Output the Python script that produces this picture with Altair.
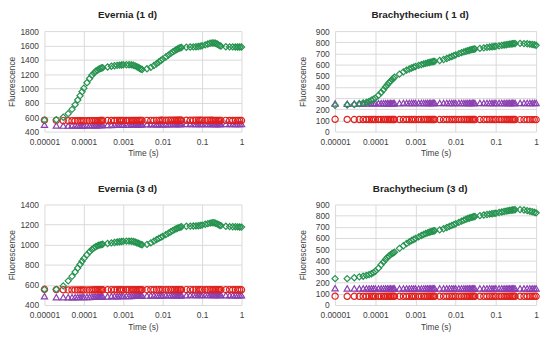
import altair as alt
import pandas as pd

# sampling times (s)
time_s = [
    1e-5, 2e-5, 3e-5, 4e-5, 5e-5, 6e-5, 7e-5, 8e-5, 9e-5, 1e-4,
    1.2e-4, 1.4e-4, 1.6e-4, 1.8e-4, 2.0e-4, 2.2e-4, 2.4e-4, 2.6e-4, 2.8e-4, 3.0e-4,
    4e-4, 5e-4, 6e-4, 7e-4, 8e-4, 9e-4, 1e-3,
    1.2e-3, 1.4e-3, 1.6e-3, 1.8e-3, 2.0e-3, 2.2e-3, 2.4e-3, 2.6e-3, 2.8e-3, 3.0e-3,
    4e-3, 5e-3, 6e-3, 7e-3, 8e-3, 9e-3, 1e-2,
    1.2e-2, 1.4e-2, 1.6e-2, 1.8e-2, 2.0e-2, 2.2e-2, 2.4e-2, 2.6e-2, 2.8e-2, 3.0e-2,
    4e-2, 5e-2, 6e-2, 7e-2, 8e-2, 9e-2, 1e-1,
    1.2e-1, 1.4e-1, 1.6e-1, 1.8e-1, 2.0e-1, 2.2e-1, 2.4e-1, 2.6e-1, 2.8e-1, 3.0e-1,
    4e-1, 5e-1, 6e-1, 7e-1, 8e-1, 9e-1, 1.0,
]

# ---- Evernia (1 d)
e1_green = [
    560, 565, 600, 650, 710, 775, 840, 900, 955, 1005,
    1080, 1140, 1185, 1215, 1240, 1255, 1268, 1278, 1285, 1290,
    1300, 1310, 1318, 1322, 1326, 1328, 1330,
    1332, 1332, 1330, 1325, 1315, 1305, 1293, 1282, 1272, 1265,
    1275, 1295, 1320, 1345, 1370, 1390, 1410,
    1440, 1465, 1490, 1510, 1525, 1540, 1550, 1560, 1568, 1572,
    1575, 1578, 1580, 1582, 1585, 1590, 1595,
    1608, 1620, 1630, 1635, 1635, 1630, 1620, 1608, 1598, 1590,
    1582, 1580, 1580, 1578, 1578, 1578, 1578,
]
e1_red = [
    560, 556, 553, 552, 552, 551, 551, 552, 552, 552,
    552, 552, 553, 553, 553, 553, 553, 554, 554, 554,
    554, 554, 554, 555, 555, 555, 555,
    555, 555, 555, 555, 556, 556, 556, 556, 556, 556,
    556, 556, 556, 556, 556, 557, 557,
    557, 557, 557, 557, 557, 557, 557, 557, 557, 557,
    557, 557, 557, 557, 557, 557, 557,
    557, 557, 557, 557, 556, 556, 556, 556, 556, 556,
    556, 555, 555, 555, 554, 554, 554,
]
e1_purple = [
    495, 486, 484, 484, 485, 485, 486, 486, 487, 487,
    488, 488, 489, 489, 490, 490, 491, 491, 491, 492,
    493, 494, 495, 496, 496, 497, 497,
    498, 498, 499, 499, 500, 500, 500, 501, 501, 501,
    502, 502, 503, 503, 503, 504, 504,
    504, 504, 505, 505, 505, 505, 506, 506, 506, 506,
    506, 506, 507, 507, 507, 507, 507,
    507, 507, 507, 507, 507, 507, 507, 507, 507, 507,
    506, 506, 506, 505, 505, 505, 505,
]

# ---- Brachythecium (1 d)
b1_green = [
    235, 238, 243, 250, 256, 262, 270, 280, 290, 300,
    325, 350, 375, 400, 420, 438, 452, 465, 476, 487,
    515, 535, 550, 560, 570, 577, 583,
    593, 600, 606, 611, 615, 619, 622, 625, 627, 629,
    636, 645, 655, 665, 673, 680, 687,
    698, 707, 714, 720, 725, 729, 733, 736, 738, 740,
    745, 750, 754, 757, 760, 762, 764,
    768, 772, 775, 778, 781, 783, 785, 787, 788, 789,
    790, 788, 786, 783, 780, 777, 773,
]
b1_red = [
    110, 109, 108, 108, 108, 108, 108, 108, 108, 108,
    108, 108, 108, 108, 108, 108, 108, 108, 108, 108,
    108, 108, 108, 108, 108, 108, 108,
    108, 108, 108, 108, 108, 108, 108, 108, 108, 108,
    108, 108, 108, 108, 108, 108, 108,
    108, 108, 108, 108, 108, 108, 108, 108, 108, 108,
    108, 108, 108, 108, 108, 108, 108,
    108, 108, 108, 108, 108, 108, 108, 108, 108, 108,
    107, 107, 107, 107, 107, 107, 107,
]
b1_purple = [
    252, 250, 251, 252, 252, 253, 253, 253, 254, 254,
    254, 254, 255, 255, 255, 255, 255, 255, 255, 255,
    255, 256, 256, 256, 256, 256, 256,
    256, 256, 256, 257, 257, 257, 257, 257, 257, 257,
    257, 257, 257, 257, 257, 257, 257,
    257, 257, 257, 257, 257, 257, 257, 257, 257, 257,
    257, 257, 257, 257, 257, 257, 257,
    257, 257, 257, 257, 257, 257, 257, 257, 257, 257,
    257, 257, 256, 256, 256, 256, 256,
]

# ---- Evernia (3 d)
e3_green = [
    555, 555, 590, 640, 685, 728, 768, 803, 835, 862,
    900, 930, 952, 968, 980, 988, 994, 998, 1001, 1004,
    1012, 1018, 1022, 1026, 1029, 1031, 1033,
    1035, 1035, 1034, 1031, 1026, 1020, 1014, 1008, 1003, 999,
    1003, 1018, 1035, 1050, 1063, 1073, 1083,
    1100, 1115, 1128, 1140, 1150, 1158, 1165, 1170, 1175, 1178,
    1183, 1185, 1186, 1187, 1189, 1192, 1195,
    1203, 1210, 1215, 1218, 1218, 1214, 1207, 1200, 1194, 1190,
    1183, 1180, 1179, 1178, 1177, 1176, 1175,
]
e3_red = [
    556, 553, 551, 550, 550, 550, 550, 550, 550, 550,
    550, 550, 550, 551, 551, 551, 551, 551, 551, 551,
    551, 551, 551, 552, 552, 552, 552,
    552, 552, 552, 552, 552, 552, 552, 552, 552, 552,
    552, 552, 552, 553, 553, 553, 553,
    553, 553, 553, 553, 553, 553, 553, 553, 553, 553,
    553, 553, 553, 553, 553, 553, 553,
    553, 553, 553, 553, 553, 553, 553, 553, 553, 553,
    552, 552, 552, 552, 551, 551, 551,
]
e3_purple = [
    488, 478, 477, 477, 478, 478, 479, 479, 480, 480,
    481, 481, 482, 482, 483, 483, 484, 484, 484, 485,
    486, 487, 488, 488, 489, 489, 490,
    490, 491, 491, 492, 492, 492, 493, 493, 493, 494,
    494, 495, 495, 495, 496, 496, 496,
    497, 497, 497, 497, 498, 498, 498, 498, 498, 498,
    498, 499, 499, 499, 499, 499, 499,
    499, 499, 499, 499, 499, 499, 499, 499, 499, 499,
    498, 498, 498, 498, 497, 497, 497,
]

# ---- Brachythecium (3 d)
b3_green = [
    236, 236, 244, 252, 258, 265, 272, 280, 290, 302,
    330, 360, 386, 408, 426, 440, 451, 460, 467, 473,
    507, 530, 550, 565, 577, 587, 595,
    610, 622, 632, 640, 646, 652, 656, 660, 663, 665,
    673, 683, 694, 704, 713, 720, 727,
    740, 751, 760, 768, 774, 779, 783, 787, 790, 792,
    800, 806, 810, 814, 817, 820, 822,
    828, 833, 837, 841, 844, 847, 849, 851, 852, 853,
    854, 850, 845, 840, 835, 830, 825,
]
b3_red = [
    79, 78, 78, 78, 78, 78, 78, 78, 78, 78,
    78, 78, 78, 78, 78, 78, 78, 78, 78, 78,
    78, 78, 78, 78, 78, 78, 78,
    78, 78, 78, 78, 78, 78, 78, 78, 78, 78,
    78, 78, 78, 78, 78, 78, 78,
    78, 78, 78, 78, 78, 78, 78, 78, 78, 78,
    78, 78, 78, 78, 78, 78, 78,
    78, 78, 78, 78, 78, 78, 78, 78, 78, 78,
    78, 78, 78, 78, 78, 78, 78,
]
b3_purple = [
    150, 148, 148, 148, 148, 148, 148, 148, 148, 148,
    148, 148, 148, 148, 148, 148, 148, 148, 148, 148,
    148, 148, 148, 148, 148, 148, 148,
    148, 148, 148, 149, 149, 149, 149, 149, 149, 149,
    149, 149, 149, 149, 149, 149, 149,
    149, 149, 149, 149, 149, 149, 149, 149, 149, 149,
    149, 149, 149, 149, 149, 149, 149,
    149, 149, 149, 149, 149, 149, 149, 149, 149, 149,
    149, 149, 149, 149, 149, 149, 149,
]

x_ticks = [1e-5, 1e-4, 1e-3, 1e-2, 1e-1, 1]
series_order = ["purple", "red", "green"]
shapes = ["triangle-up", "circle", "diamond"]

FONT = "Liberation Sans"


def panel(title, green, red, purple, ydom, ystep, colors, width):
    rows = []
    for name, vals in zip(series_order, [purple, red, green]):
        for t, v in zip(time_s, vals):
            rows.append({"t": t, "v": v, "s": name})
    df = pd.DataFrame(rows)
    yvals = list(range(ydom[0], ydom[1] + 1, ystep))
    return (
        alt.Chart(df)
        .mark_point(filled=False, size=40, strokeWidth=1.2, opacity=1)
        .encode(
            x=alt.X(
                "t:Q",
                scale=alt.Scale(type="log", domain=[1e-5, 1], nice=False),
                axis=alt.Axis(values=x_ticks, format=".5~f", title="Time (s)",
                              labelOverlap=False, labelFlush=False),
            ),
            y=alt.Y(
                "v:Q",
                scale=alt.Scale(domain=list(ydom), nice=False, zero=False),
                axis=alt.Axis(values=yvals, format="d", title="Fluorescence",
                              titleX=-28, titleY=51),
            ),
            color=alt.Color("s:N", scale=alt.Scale(domain=series_order, range=colors), legend=None),
            shape=alt.Shape("s:N", scale=alt.Scale(domain=series_order, range=shapes), legend=None),
        )
        .properties(width=width, height=102,
                    title=alt.TitleParams(title, frame="bounds", anchor="middle"))
    )


ev_colors = ["#8a3fb0", "#e0201c", "#25934f"]
br_colors = ["#6e2fa0", "#a8320e", "#25934f"]

p1 = panel("Evernia (1 d)", e1_green, e1_red, e1_purple, (400, 1800), 200, ev_colors, 200)
p2 = panel("Brachythecium ( 1 d)", b1_green, b1_red, b1_purple, (0, 900), 100, br_colors, 204)
p3 = panel("Evernia (3 d)", e3_green, e3_red, e3_purple, (400, 1400), 200, ev_colors, 200)
p4 = panel("Brachythecium (3 d)", b3_green, b3_red, b3_purple, (0, 900), 100, br_colors, 204)

chart = (
    alt.vconcat(
        alt.hconcat(p1, p2, spacing=52),
        alt.hconcat(p3, p4, spacing=52),
        spacing=27,
    )
    .properties(padding=0)
    .configure_view(stroke=None)
    .configure_axis(
        labelFont=FONT,
        labelFontSize=8.5,
        labelColor="#404040",
        titleFont=FONT,
        titleFontSize=8.5,
        titleFontWeight="normal",
        titleColor="#404040",
        gridColor="#d9d9d9",
        gridWidth=1,
        domain=False,
        ticks=False,
        tickSize=0,
        labelPadding=6,
        titlePadding=3,
    )
    .configure_title(font=FONT, fontSize=10, fontWeight="bold", color="#222222", offset=7)
)

chart.save("out.html", embed_options={"renderer": "svg", "actions": False})
